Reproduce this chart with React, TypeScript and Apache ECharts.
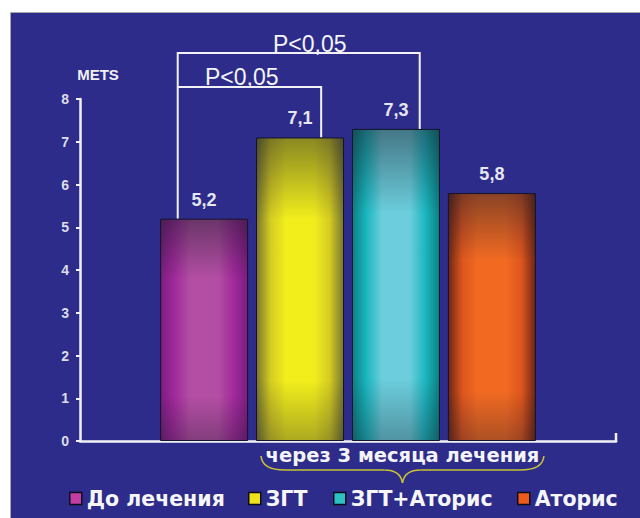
import React, { useEffect, useRef } from "react";
import * as echarts from "echarts";

const categories = ["METS"];
const seriesNames = ["До лечения", "ЗГТ", "ЗГТ+Аторис", "Аторис"];
const seriesValues = [5.2, 7.1, 7.3, 5.8];
const yTickLabels = ["0", "1", "2", "3", "4", "5", "6", "7", "8"];
const axisTitle = "METS";
const pLabels = ["P<0,05", "P<0,05"];
const periodLabel = "через 3 месяца лечения";

// gradient stops per series: [center, mid, edge]
const barPalettes = [
  ["#b44ea4", "#a02a9a", "#7c1c80"],
  ["#f2ee1c", "#d4cc22", "#77772e"],
  ["#6ccedd", "#1ab6be", "#0b8082"],
  ["#f26a22", "#dc561e", "#6e2614"],
];
const legendColors = ["#c23ea2", "#eee21a", "#2cc2c4", "#ee5a1c"];

const W = 640;
const H = 518;
const GRID = { left: 80, right: 24, top: 99, bottom: 77 };
const LEGEND_LEFT = [69, 248, 333, 517];
const FONT = "'Liberation Sans', Arial, sans-serif";
const CYR_FONT = "'DejaVu Sans', sans-serif";

function horiz(p: string[]) {
  return new echarts.graphic.LinearGradient(0, 0, 1, 0, [
    { offset: 0, color: p[2] },
    { offset: 0.16, color: p[1] },
    { offset: 0.34, color: p[0] },
    { offset: 0.66, color: p[0] },
    { offset: 0.84, color: p[1] },
    { offset: 1, color: p[2] },
  ]);
}

export default function App() {
  const ref = useRef<HTMLDivElement>(null);

  useEffect(() => {
    const chart = echarts.init(ref.current!, null, { renderer: "svg" });
    const yMax = Number(yTickLabels[yTickLabels.length - 1]);

    const option: any = {
      animation: false,
      backgroundColor: "#ffffff",
      grid: { ...GRID },
      xAxis: {
        type: "category",
        data: categories,
        axisLine: { lineStyle: { color: "#f2f2f6", width: 2.5 } },
        axisTick: { show: false },
        axisLabel: { show: false },
      },
      yAxis: {
        type: "value",
        min: 0,
        max: yMax,
        interval: 1,
        axisLine: { show: true, lineStyle: { color: "#f2f2f6", width: 2.5 } },
        axisTick: { show: true, inside: false, length: 4, lineStyle: { color: "#f2f2f6", width: 2 } },
        splitLine: { show: false },
        axisLabel: {
          margin: 11,
          color: "#dcdcea",
          fontSize: 14,
          fontWeight: "bold",
          fontFamily: FONT,
          formatter: (v: number) => yTickLabels[v] ?? String(v),
        },
      },
      legend: seriesNames.map((n, i) => ({
        data: [
          {
            name: n,
            itemStyle: { color: legendColors[i], borderColor: "#0c0c1c", borderWidth: 1.5 },
          },
        ],
        left: LEGEND_LEFT[i],
        top: 488,
        padding: 0,
        icon: "rect",
        itemWidth: 12,
        itemHeight: 12,
        selectedMode: false,
        textStyle: { color: "#f6f6f8", fontSize: 20.5, fontWeight: "bold", fontFamily: CYR_FONT },
      })),
      series: seriesNames.map((n, i) => ({
        name: n,
        type: "bar",
        data: [seriesValues[i]],
        barWidth: 88,
        barGap: "9%",
        itemStyle: { color: horiz(barPalettes[i]), borderColor: "#12122a", borderWidth: 1 },
        label: {
          show: true,
          position: "top",
          distance: 10,
          color: "#e6e6f0",
          fontSize: 18,
          fontWeight: "bold",
          fontFamily: FONT,
          formatter: (p: any) => String(p.value).replace(".", ","),
        },
      })),
      graphic: [
        {
          id: "bg",
          type: "rect",
          z: -100,
          silent: true,
          shape: { x: 10.5, y: 12.5, width: W - 10, height: H - 12 },
          style: { fill: "#2d2c8a", stroke: "#a8a8a8", lineWidth: 1 },
        },
        {
          id: "mets",
          type: "text",
          x: 98,
          y: 74,
          style: {
            text: axisTitle,
            fill: "#f0f0f6",
            font: `bold 15px ${FONT}`,
            textAlign: "center",
            textVerticalAlign: "middle",
          },
        },
      ],
    };
    chart.setOption(option);

    // bar layouts for the annotations
    const lay = seriesNames.map((_, i) => {
      try {
        const l = (chart as any).getModel().getSeriesByIndex(i).getData().getItemLayout(0);
        const top = Math.min(l.y, l.y + l.height);
        return { x: l.x, w: l.width, top, h: Math.abs(l.height) };
      } catch (e) {
        const plotW = W - GRID.left - GRID.right;
        const total = 4 * 88 + 3 * 8;
        const x = GRID.left + plotW / 2 - total / 2 + i * 96;
        const top = chart.convertToPixel({ yAxisIndex: 0 } as any, seriesValues[i]) as any;
        const base = chart.convertToPixel({ yAxisIndex: 0 } as any, 0) as any;
        return { x, w: 88, top, h: base - top };
      }
    });
    const baseY = chart.convertToPixel({ yAxisIndex: 0 } as any, 0) as any as number;
    const axisRight = W - GRID.right;

    const x1 = lay[0].x + 0.2 * lay[0].w;
    const x2 = lay[1].x + 0.74 * lay[1].w;
    const x3 = lay[2].x + 0.77 * lay[2].w;
    const yTop = 53;
    const yLow = 87;
    const line = { stroke: "#f2f2f6", lineWidth: 2, fill: null };

    const bl = lay[1].x + 5;
    const br = lay[3].x + lay[3].w + 8;
    const bm = (bl + br) / 2;
    const by = 470;
    const braceStyle = { stroke: "#c9c236", lineWidth: 1.6, fill: null };

    const shades = lay.map((l, i) => ({
      id: "shade" + i,
      type: "rect",
      z: 5,
      silent: true,
      shape: { x: l.x + 0.5, y: l.top + 0.5, width: l.w - 1, height: l.h - 1 },
      style: {
        fill: new echarts.graphic.LinearGradient(0, 0, 0, 1, [
          { offset: 0, color: "rgba(25,25,40,0.48)" },
          { offset: 0.27, color: "rgba(25,25,40,0)" },
          { offset: 0.8, color: "rgba(25,25,40,0)" },
          { offset: 1, color: "rgba(25,25,40,0.32)" },
        ]),
      },
    }));

    chart.setOption({
      graphic: [
        ...shades,
        {
          id: "bracketTop",
          type: "polyline",
          shape: { points: [[x1, lay[0].top], [x1, yTop], [x3, yTop], [x3, lay[2].top]] },
          style: line,
        },
        {
          id: "bracketLow",
          type: "polyline",
          shape: { points: [[x1, yLow], [x2, yLow], [x2, lay[1].top]] },
          style: line,
        },
        {
          id: "pTop",
          type: "text",
          x: x1 + 132,
          y: 44,
          style: { text: pLabels[0], fill: "#f4f4f8", font: `23px ${FONT}`, textAlign: "center", textVerticalAlign: "middle" },
        },
        {
          id: "pLow",
          type: "text",
          x: x1 + 64,
          y: 77,
          style: { text: pLabels[1], fill: "#f4f4f8", font: `23px ${FONT}`, textAlign: "center", textVerticalAlign: "middle" },
        },
        {
          id: "axisEnd",
          type: "line",
          shape: { x1: axisRight, y1: baseY - 8, x2: axisRight, y2: baseY + 1 },
          style: { stroke: "#f2f2f6", lineWidth: 2.5 },
        },
        {
          id: "braceL1",
          type: "bezierCurve",
          shape: { x1: bl, y1: by - 14, cpx1: bl + 1, cpy1: by, x2: bl + 24, y2: by },
          style: braceStyle,
        },
        {
          id: "braceL2",
          type: "line",
          shape: { x1: bl + 24, y1: by, x2: bm - 18, y2: by },
          style: braceStyle,
        },
        {
          id: "braceL3",
          type: "bezierCurve",
          shape: { x1: bm - 18, y1: by, cpx1: bm - 2, cpy1: by, x2: bm, y2: by + 13 },
          style: braceStyle,
        },
        {
          id: "braceR3",
          type: "bezierCurve",
          shape: { x1: bm, y1: by + 13, cpx1: bm + 2, cpy1: by, x2: bm + 18, y2: by },
          style: braceStyle,
        },
        {
          id: "braceR2",
          type: "line",
          shape: { x1: bm + 18, y1: by, x2: br - 24, y2: by },
          style: braceStyle,
        },
        {
          id: "braceR1",
          type: "bezierCurve",
          shape: { x1: br - 24, y1: by, cpx1: br - 1, cpy1: by, x2: br, y2: by - 14 },
          style: braceStyle,
        },
        {
          id: "period",
          type: "text",
          x: bm,
          y: 455,
          style: {
            text: periodLabel,
            fill: "#f4f4f8",
            font: `bold 19.5px ${CYR_FONT}`,
            textAlign: "center",
            textVerticalAlign: "middle",
          },
        },
      ],
    });

    return () => chart.dispose();
  }, []);

  return (
    <div
      ref={ref}
      style={{ position: "fixed", left: 0, top: 0, width: W, height: H }}
    />
  );
}
